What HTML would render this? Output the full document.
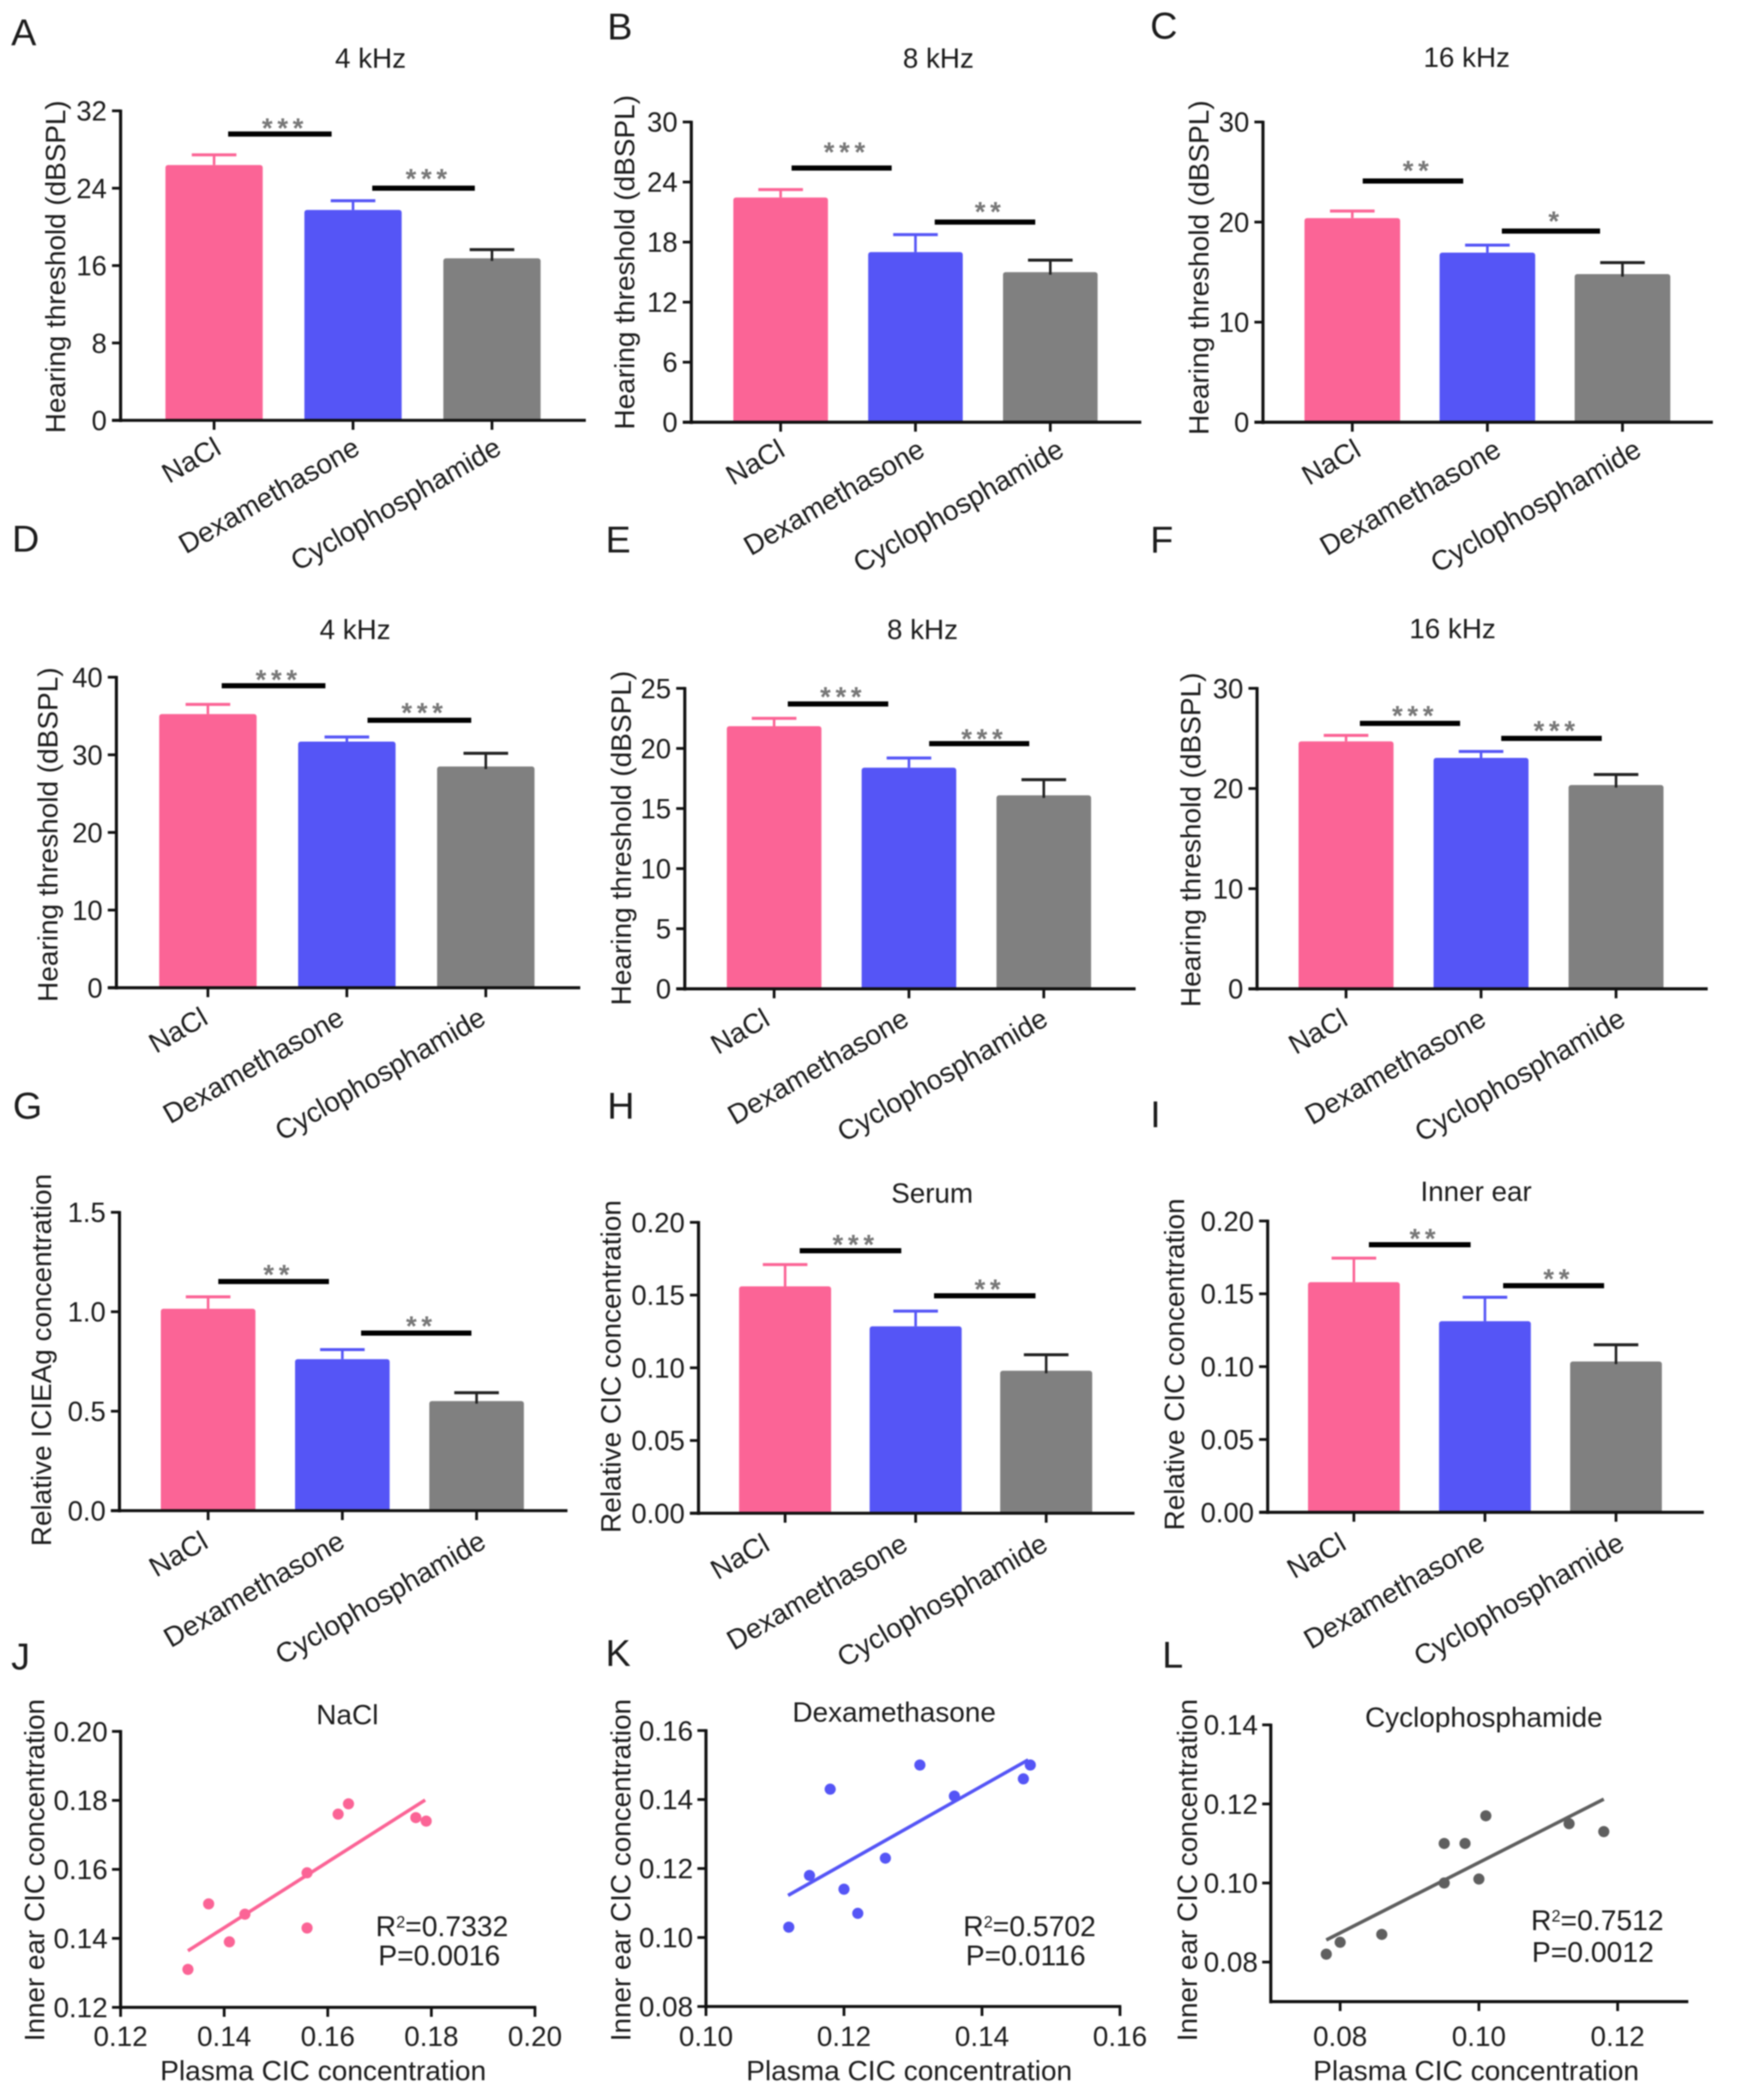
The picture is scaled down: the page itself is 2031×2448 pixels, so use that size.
<!DOCTYPE html>
<html lang="en">
<head>
<meta charset="utf-8">
<title>Hearing threshold and CIC concentration panels</title>
<style>
html,body{margin:0;padding:0;background:#fff;}
#figure{display:block;width:2031px;height:2448px;filter:blur(0.8px);}
text{font-family:"Liberation Sans",Arial,sans-serif;fill:#1c1c1c;}
</style>
</head>
<body>
<svg id="figure" xmlns="http://www.w3.org/2000/svg" width="2031" height="2448" viewBox="0 0 2031 2448"></svg>
<script>
// ---- shared categories ----
const categories = ["NaCl", "Dexamethasone", "Cyclophosphamide"];

// ---- bar chart data: means, error tops, significance levels and stars ----
const aTicks = [0, 8, 16, 24, 32];
const aValues = [26.4, 21.75, 16.75];
const aErrors = [27.45, 22.7, 17.65];
const aSigLevels = [29.6, 24.0];
const aSigStars = ["***", "***"];

const bTicks = [0, 6, 12, 18, 24, 30];
const bValues = [22.45, 17.0, 15.0];
const bErrors = [23.25, 18.75, 16.2];
const bSigLevels = [25.4, 20.0];
const bSigStars = ["***", "**"];

const cTicks = [0, 10, 20, 30];
const cValues = [20.4, 16.95, 14.8];
const cErrors = [21.1, 17.7, 15.95];
const cSigLevels = [24.1, 19.1];
const cSigStars = ["**", "*"];

const dTicks = [0, 10, 20, 30, 40];
const dValues = [35.25, 31.7, 28.5];
const dErrors = [36.5, 32.3, 30.2];
const dSigLevels = [38.9, 34.45];
const dSigStars = ["***", "***"];

const eTicks = [0, 5, 10, 15, 20, 25];
const eValues = [21.85, 18.4, 16.1];
const eErrors = [22.5, 19.2, 17.4];
const eSigLevels = [23.7, 20.4];
const eSigStars = ["***", "***"];

const fTicks = [0, 10, 20, 30];
const fValues = [24.7, 23.05, 20.35];
const fErrors = [25.3, 23.7, 21.4];
const fSigLevels = [26.5, 25.0];
const fSigStars = ["***", "***"];

const gTicks = ["0.0", "0.5", "1.0", "1.5"];
const gValues = [1.015, 0.762, 0.551];
const gErrors = [1.075, 0.81, 0.593];
const gSigLevels = [1.152, 0.893];
const gSigStars = ["**", "**"];

const hTicks = ["0.00", "0.05", "0.10", "0.15", "0.20"];
const hValues = [0.156, 0.1285, 0.098];
const hErrors = [0.171, 0.139, 0.109];
const hSigLevels = [0.1805, 0.1495];
const hSigStars = ["***", "**"];

const iTicks = ["0.00", "0.05", "0.10", "0.15", "0.20"];
const iValues = [0.158, 0.1312, 0.1035];
const iErrors = [0.1745, 0.1476, 0.115];
const iSigLevels = [0.1837, 0.1556];
const iSigStars = ["**", "**"];

// ---- scatter data ----
const jPlasma = [0.133, 0.137, 0.141, 0.144, 0.156, 0.156, 0.162, 0.164, 0.177, 0.179];
const jInnerEar = [0.131, 0.150, 0.139, 0.147, 0.159, 0.143, 0.176, 0.179, 0.175, 0.174];
const jFitX = [0.133, 0.1788];
const jFitY = [0.1364, 0.1801];
const jXTicks = ["0.12", "0.14", "0.16", "0.18", "0.20"];
const jYTicks = ["0.12", "0.14", "0.16", "0.18", "0.20"];

const kPlasma = [0.112, 0.115, 0.118, 0.120, 0.122, 0.126, 0.131, 0.136, 0.146, 0.147];
const kInnerEar = [0.103, 0.118, 0.143, 0.114, 0.107, 0.123, 0.150, 0.141, 0.146, 0.150];
const kFitX = [0.1119, 0.1467];
const kFitY = [0.1122, 0.1515];
const kXTicks = ["0.10", "0.12", "0.14", "0.16"];
const kYTicks = ["0.08", "0.10", "0.12", "0.14", "0.16"];

const lPlasma = [0.078, 0.080, 0.086, 0.095, 0.098, 0.095, 0.100, 0.101, 0.113, 0.118];
const lInnerEar = [0.082, 0.085, 0.087, 0.110, 0.110, 0.100, 0.101, 0.117, 0.115, 0.113];
const lFitX = [0.078, 0.118];
const lFitY = [0.0856, 0.1212];
const lXTicks = ["0.08", "0.10", "0.12"];
const lYTicks = ["0.08", "0.10", "0.12", "0.14"];

// ---- colours ----
const PINK = "#fb6496";
const BLUE = "#5555f6";
const GRAY = "#808080";
const SCATTER_DARK = "#5f5f5f";
const BAR_COLORS = [PINK, BLUE, GRAY];
const AXIS = "#111";

const svg = document.getElementById("figure");
const NS = "http://www.w3.org/2000/svg";

function add(tag, parent, attrs, name, interactable) {
  const el = document.createElementNS(NS, tag);
  for (const k in attrs) el.setAttribute(k, attrs[k]);
  
  
  parent.appendChild(el);
  return el;
}

function addText(parent, str, attrs, name) {
  const el = add("text", parent, attrs, name, false);
  el.textContent = str;
  return el;
}

function line(parent, x1, y1, x2, y2, color, w, name) {
  return add("line", parent, {x1: x1, y1: y1, x2: x2, y2: y2, stroke: color, "stroke-width": w}, name, false);
}

function verticalTitle(parent, str, x, cy, len, name) {
  return addText(parent, str, {
    x: 0, y: 0, transform: "translate(" + x + "," + cy + ") rotate(-90)",
    "text-anchor": "middle", "font-size": 32.5, textLength: len, lengthAdjust: "spacingAndGlyphs"
  }, name);
}

function barPanel(o) {
  const g = add("g", svg, {}, "panel-" + o.id, false);
  const yScale = v => o.y0 - (v / o.max) * (o.y0 - o.yTop);
  const center = i => o.barX + o.barW / 2 + i * o.pitch;

  addText(g, o.id.toUpperCase(), {x: o.letter[0], y: o.letter[1], "font-size": 44}, "panel-letter-" + o.id);
  if (o.title) {
    addText(g, o.title[0], {x: o.title[1], y: o.title[2], "text-anchor": "middle", "font-size": 32.4}, "panel-title-" + o.id);
  }
  verticalTitle(g, o.yTitle[0], o.yTitle[1], o.yTitle[2], o.yTitle[3], "y-axis-title-" + o.id);

  // bars
  o.values.forEach(function (v, i) {
    const cx = center(i);
    const color = BAR_COLORS[i];
    const top = yScale(v);
    const errTop = yScale(o.errors[i]);
    add("rect", g, {x: cx - o.barW / 2, y: top, width: o.barW, height: o.y0 - top + 1, rx: 3, fill: color}, "bar-" + o.id + "-" + categories[i].toLowerCase(), false);
    const stemColor = i === 2 ? "#222" : color;
    line(g, cx, errTop, cx, top + (i === 2 ? 3 : 0), stemColor, 3, "error-stem-" + o.id + "-" + (i + 1));
    line(g, cx - 26, errTop, cx + 26, errTop, stemColor, 3.5, "error-cap-" + o.id + "-" + (i + 1));
  });

  // axes
  line(g, o.axisX, o.yTop - 1.5, o.axisX, o.y0 + 2, AXIS, 3.6, "y-axis-" + o.id);
  line(g, o.axisX - 10, o.y0, o.xEnd, o.y0, AXIS, 3.6, "x-axis-" + o.id);

  o.ticks.forEach(function (t) {
    const y = yScale(parseFloat(t));
    line(g, o.axisX - 10, y, o.axisX, y, AXIS, 3.2, "y-tick-" + o.id + "-" + t);
    addText(g, String(t), {x: o.axisX - 16, y: y + 11.5, "text-anchor": "end", "font-size": 32}, "y-tick-label-" + o.id + "-" + t);
  });

  categories.forEach(function (c, i) {
    const cx = center(i);
    line(g, cx, o.y0, cx, o.y0 + 11, AXIS, 3.2, "x-tick-" + o.id + "-" + (i + 1));
    const lx = cx + o.labelShift[i];
    const ly = o.y0 + o.labelDrop;
    addText(g, c, {x: 0, y: 0, transform: "translate(" + lx + "," + ly + ") rotate(-30)", "text-anchor": "end", "font-size": 32.5, fill: "#2c2c2c"}, "x-tick-label-" + o.id + "-" + c.toLowerCase());
  });

  // significance brackets
  o.sigLevels.forEach(function (lv, i) {
    const y = yScale(lv);
    const xs = o.sigX[i];
    line(g, xs[0], y, xs[1], y, "#000", 6, "significance-bar-" + o.id + "-" + (i + 1));
    addText(g, o.sigStars[i], {
      x: (xs[0] + xs[1]) / 2 + 6, y: y - o.starGap[i] + 15, "text-anchor": "middle", "font-size": 32,
      "font-weight": "bold", "letter-spacing": 5.5, style: "fill:#777"
    }, "significance-stars-" + o.id + "-" + (i + 1));
  });
}

function scatterPanel(o) {
  const g = add("g", svg, {}, "panel-" + o.id, false);
  const sx = v => o.x0 + (v - o.xDom[0]) / (o.xDom[1] - o.xDom[0]) * (o.x1 - o.x0);
  const sy = v => o.y0 - (v - o.yDom[0]) / (o.yDom[1] - o.yDom[0]) * (o.y0 - o.y1);

  addText(g, o.id.toUpperCase(), {x: o.letter[0], y: o.letter[1], "font-size": 44}, "panel-letter-" + o.id);
  addText(g, o.title[0], {x: o.title[1], y: o.title[2], "text-anchor": "middle", "font-size": 32.6}, "panel-title-" + o.id);
  verticalTitle(g, "Inner ear CIC concentration", o.yTitleX, 2180, 399, "y-axis-title-" + o.id);
  addText(g, "Plasma CIC concentration", {x: o.xTitleX, y: 2425, "text-anchor": "middle", "font-size": 32, textLength: 380, lengthAdjust: "spacingAndGlyphs"}, "x-axis-title-" + o.id);

  line(g, o.x0, o.y1 - 1.5, o.x0, o.y0 + 2, AXIS, 3.6, "y-axis-" + o.id);
  line(g, o.x0 - 1.5, o.y0, o.x1 + 1.5, o.y0, AXIS, 3.6, "x-axis-" + o.id);

  o.xTicks.forEach(function (t) {
    const x = sx(parseFloat(t));
    line(g, x, o.y0, x, o.y0 + 11, AXIS, 3.2, "x-tick-" + o.id + "-" + t);
    addText(g, t, {x: x, y: 2385, "text-anchor": "middle", "font-size": 32.5}, "x-tick-label-" + o.id + "-" + t);
  });
  o.yTicks.forEach(function (t) {
    const y = sy(parseFloat(t));
    line(g, o.x0 - 10, y, o.x0, y, AXIS, 3.2, "y-tick-" + o.id + "-" + t);
    addText(g, t, {x: o.x0 - 15, y: y + 11.5, "text-anchor": "end", "font-size": 32.5}, "y-tick-label-" + o.id + "-" + t);
  });

  line(g, sx(o.fitX[0]), sy(o.fitY[0]), sx(o.fitX[1]), sy(o.fitY[1]), o.lineColor, 4, "regression-line-" + o.id);
  o.xs.forEach(function (v, i) {
    add("circle", g, {cx: sx(v), cy: sy(o.ys[i]), r: 6.5, fill: o.color}, "point-" + o.id + "-" + (i + 1), false);
  });

  const r = add("text", g, {x: o.r2[0], y: o.r2[1], "font-size": 33}, "r-squared-" + o.id, false);
  const r1 = document.createElementNS(NS, "tspan");
  r1.textContent = "R";
  r.appendChild(r1);
  const r2 = document.createElementNS(NS, "tspan");
  r2.setAttribute("dy", "-10");
  r2.setAttribute("font-size", "19");
  r2.textContent = "2";
  r.appendChild(r2);
  const r3 = document.createElementNS(NS, "tspan");
  r3.setAttribute("dy", "10");
  r3.textContent = "=" + o.r2Text;
  r.appendChild(r3);
  addText(g, "P=" + o.pText, {x: o.p[0], y: o.p[1], "font-size": 33}, "p-value-" + o.id);
}

const HT = "Hearing threshold (dBSPL)";
const RC = "Relative CIC concentration";

barPanel({id: "a", letter: [13, 53], title: ["4 kHz", 432, 79], yTitle: [HT, 76, 311, 388],
  axisX: 140.6, xEnd: 683, yTop: 129.2, y0: 490, max: 32, ticks: aTicks, values: aValues, errors: aErrors,
  barX: 192.9, barW: 113.4, pitch: 162, sigLevels: aSigLevels, sigStars: aSigStars, sigX: [[266, 386.6], [434, 553.6]],
  starGap: [11, 14.7], labelShift: [10, 10, 13], labelDrop: 38});

barPanel({id: "b", letter: [708, 46], title: ["8 kHz", 1094, 79], yTitle: [HT, 739.6, 305.7, 390],
  axisX: 806, xEnd: 1330.6, yTop: 142.2, y0: 492.2, max: 30, ticks: bTicks, values: bValues, errors: bErrors,
  barX: 855, barW: 110.3, pitch: 157.2, sigLevels: bSigLevels, sigStars: bSigStars, sigX: [[922.9, 1039.6], [1089.8, 1207]],
  starGap: [22.5, 16], labelShift: [7, 13, 18], labelDrop: 38});

barPanel({id: "c", letter: [1341, 45], title: ["16 kHz", 1710, 78], yTitle: [HT, 1409, 312, 390],
  axisX: 1472.5, xEnd: 1997, yTop: 142.2, y0: 492.2, max: 30, ticks: cTicks, values: cValues, errors: cErrors,
  barX: 1520.9, barW: 111.5, pitch: 157.5, sigLevels: cSigLevels, sigStars: cSigStars, sigX: [[1588.8, 1706], [1751, 1865.5]],
  starGap: [16, 15.6], labelShift: [12, 18, 24], labelDrop: 38});

barPanel({id: "d", letter: [14, 643], title: ["4 kHz", 414, 745], yTitle: [HT, 67, 973, 390],
  axisX: 135.7, xEnd: 676.5, yTop: 789.4, y0: 1151.4, max: 40, ticks: dTicks, values: dValues, errors: dErrors,
  barX: 185.6, barW: 113.6, pitch: 162, sigLevels: dSigLevels, sigStars: dSigStars, sigX: [[258.5, 379.4], [428.5, 549.4]],
  starGap: [11, 12.6], labelShift: [2, -1, 2], labelDrop: 41});

barPanel({id: "e", letter: [706, 644], title: ["8 kHz", 1075.5, 745], yTitle: [HT, 735.5, 977, 390],
  axisX: 798.4, xEnd: 1324, yTop: 802.4, y0: 1152.7, max: 25, ticks: eTicks, values: eValues, errors: eErrors,
  barX: 847.4, barW: 110.3, pitch: 157.2, sigLevels: eSigLevels, sigStars: eSigStars, sigX: [[918.5, 1035.6], [1083.3, 1200]],
  starGap: [12.2, 9.4], labelShift: [-3, 2, 7], labelDrop: 41});

barPanel({id: "f", letter: [1341, 644], title: ["16 kHz", 1693.5, 744], yTitle: [HT, 1399.5, 979, 390],
  axisX: 1465.6, xEnd: 1991, yTop: 802.4, y0: 1152.7, max: 30, ticks: fTicks, values: fValues, errors: fErrors,
  barX: 1514, barW: 110.7, pitch: 157.4, sigLevels: fSigLevels, sigStars: fSigStars, sigX: [[1585.5, 1702.3], [1750.3, 1867.5]],
  starGap: [12.6, 12.6], labelShift: [4, 8, 13], labelDrop: 41});

barPanel({id: "g", letter: [15, 1304], yTitle: ["Relative ICIEAg concentration", 59.4, 1585.4, 434],
  axisX: 139.3, xEnd: 661.6, yTop: 1413.2, y0: 1761, max: 1.5, ticks: gTicks, values: gValues, errors: gErrors,
  barX: 187.5, barW: 110.3, pitch: 156.5, sigLevels: gSigLevels, sigStars: gSigStars, sigX: [[254.5, 383.5], [421, 549.6]],
  starGap: [11.7, 12], labelShift: [2, 5, 13], labelDrop: 42});

barPanel({id: "h", letter: [708, 1304], title: ["Serum", 1086.8, 1402], yTitle: [RC, 723.4, 1593, 388],
  axisX: 814.4, xEnd: 1322.7, yTop: 1424.9, y0: 1764, max: 0.2, ticks: hTicks, values: hValues, errors: hErrors,
  barX: 861.7, barW: 107.3, pitch: 152.2, sigLevels: hSigLevels, sigStars: hSigStars, sigX: [[932.4, 1050.8], [1089, 1207.3]],
  starGap: [11, 11.4], labelShift: [-16, -7, 4], labelDrop: 42});

barPanel({id: "i", letter: [1341, 1314], title: ["Inner ear", 1721, 1400], yTitle: [RC, 1380.5, 1590.5, 387],
  axisX: 1478, xEnd: 1986.5, yTop: 1423.3, y0: 1762.9, max: 0.2, ticks: iTicks, values: iValues, errors: iErrors,
  barX: 1525, barW: 107, pitch: 152.8, sigLevels: iSigLevels, sigStars: iSigStars, sigX: [[1596, 1714.6], [1752.5, 1870.2]],
  starGap: [11, 11.8], labelShift: [-7, 2, 12], labelDrop: 42});

scatterPanel({id: "j", letter: [13, 1946], title: ["NaCl", 405, 2010], yTitleX: 51.3, xTitleX: 376.8,
  x0: 140.6, x1: 623.7, y0: 2340, y1: 2018.3, xDom: [0.12, 0.20], yDom: [0.12, 0.20],
  xTicks: jXTicks, yTicks: jYTicks, xs: jPlasma, ys: jInnerEar, fitX: jFitX, fitY: jFitY,
  color: PINK, lineColor: PINK, r2: [438, 2257], r2Text: "0.7332", p: [441, 2291], pText: "0.0016"});

scatterPanel({id: "k", letter: [706, 1942], title: ["Dexamethasone", 1042.5, 2007], yTitleX: 735, xTitleX: 1060,
  x0: 823.1, x1: 1305.8, y0: 2339, y1: 2017.3, xDom: [0.10, 0.16], yDom: [0.08, 0.16],
  xTicks: kXTicks, yTicks: kYTicks, xs: kPlasma, ys: kInnerEar, fitX: kFitX, fitY: kFitY,
  color: BLUE, lineColor: BLUE, r2: [1123, 2257], r2Text: "0.5702", p: [1126, 2291], pText: "0.0116"});

scatterPanel({id: "l", letter: [1355, 1944], title: ["Cyclophosphamide", 1730, 2013], yTitleX: 1395.6, xTitleX: 1721,
  x0: 1481.6, x1: 1966.9, y0: 2333.3, y1: 2010.7, xDom: [0.07, 0.13], yDom: [0.07, 0.14],
  xTicks: lXTicks, yTicks: lYTicks, xs: lPlasma, ys: lInnerEar, fitX: lFitX, fitY: lFitY,
  color: SCATTER_DARK, lineColor: SCATTER_DARK, r2: [1785, 2250], r2Text: "0.7512", p: [1786, 2287], pText: "0.0012"});
</script>
</body>
</html>
